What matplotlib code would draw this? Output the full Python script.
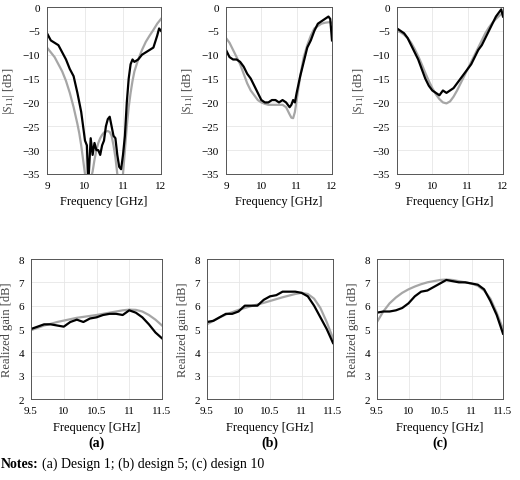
import numpy as np
import matplotlib.pyplot as plt

plt.rcParams['font.family'] = ['Liberation Serif', 'DejaVu Serif']
plt.rcParams['mathtext.fontset'] = 'custom'
plt.rcParams['mathtext.rm'] = 'Liberation Serif'
plt.rcParams['mathtext.it'] = 'Liberation Serif:italic'
plt.rcParams['font.size'] = 8

# |S11| data, frequency in GHz
s_freq_a = [9.0, 9.1, 9.2, 9.3, 9.4, 9.5, 9.6, 9.7, 9.8, 9.85, 9.9, 9.95, 10.0, 10.05, 10.08, 10.1, 10.15, 10.2, 10.25, 10.3, 10.35, 10.4, 10.45, 10.5, 10.55, 10.6, 10.65, 10.7, 10.75, 10.8, 10.85, 10.9, 10.95, 11.0, 11.05, 11.1, 11.15, 11.2, 11.25, 11.3, 11.4, 11.5, 11.6, 11.7, 11.8, 11.9, 11.95, 12.0]
s_meas_a = [-5.5, -7, -7.5, -8, -9.5, -11, -13, -14.5, -18, -20, -22, -25, -28, -29, -36, -35, -27.5, -31, -28.5, -30, -30, -31, -29, -28, -25, -23.5, -23, -25, -27, -27.5, -31, -33.5, -34, -31, -27, -20, -15, -12, -11, -11.5, -11, -10, -9.5, -9, -8.5, -6, -4.5, -5]
s_sim_a = [-8.5, -9.5, -10.5, -12, -13.5, -15.5, -18, -21, -24.5, -26.5, -29, -32, -35, -37, -38, -38, -36, -34.5, -32, -30, -28.5, -27.5, -26.8, -26.3, -26.1, -26, -26.2, -27, -29, -31.5, -35, -38, -39, -35, -30, -25, -21, -18, -15.5, -13.5, -11, -9, -7.3, -6, -4.8, -3.5, -3, -2.5]

s_freq_b = [9.0, 9.1, 9.2, 9.3, 9.4, 9.5, 9.6, 9.7, 9.8, 9.9, 10.0, 10.1, 10.2, 10.3, 10.4, 10.5, 10.6, 10.7, 10.8, 10.85, 10.9, 10.95, 11.0, 11.1, 11.2, 11.3, 11.4, 11.5, 11.6, 11.7, 11.8, 11.9, 11.95, 12.0]
s_meas_b = [-9, -10.5, -11, -11, -11.5, -12.5, -14, -15, -16.5, -18, -19.5, -20, -20, -19.5, -19.5, -20, -19.5, -20, -21, -20.5, -19.5, -20, -18, -14.5, -11.5, -8.5, -7, -5, -3.5, -3, -2.5, -2, -2.5, -7]
s_sim_b = [-6.5, -7.5, -9, -10.5, -12, -14, -16, -17.5, -18.5, -19.5, -20, -20.3, -20.5, -20.5, -20.5, -20.5, -20.5, -21, -22.5, -23.2, -23.3, -22, -19.5, -14.5, -10.5, -8, -6, -4.5, -4, -3.5, -3.3, -3.2, -3.2, -3.3]

s_freq_c = [9.0, 9.1, 9.2, 9.3, 9.4, 9.5, 9.6, 9.7, 9.8, 9.9, 10.0, 10.1, 10.2, 10.3, 10.4, 10.5, 10.6, 10.7, 10.8, 10.9, 11.0, 11.1, 11.2, 11.3, 11.4, 11.5, 11.6, 11.7, 11.8, 11.9, 11.95, 12.0]
s_meas_c = [-4.5, -5, -5.5, -6.5, -8, -9.5, -11, -13, -15, -16.5, -17.5, -18, -18.5, -17.5, -18, -17.5, -17, -16, -15, -14, -13, -12, -10.5, -9, -8, -6.5, -5, -3.5, -2, -1, -0.5, -2]
s_sim_c = [-5, -5.3, -5.8, -6.5, -7.5, -8.8, -10.3, -12, -13.8, -15.5, -17, -18.3, -19.3, -20, -20.2, -19.8, -18.8, -17.5, -16, -14.5, -13, -11.5, -10, -8.5, -7, -5.5, -4.3, -3.3, -2.5, -1.8, -1.5, -1.3]

# realized gain data
g_freq = [9.5, 9.6, 9.7, 9.8, 9.9, 10.0, 10.1, 10.2, 10.3, 10.4, 10.5, 10.6, 10.7, 10.8, 10.9, 11.0, 11.1, 11.2, 11.3, 11.4, 11.5]
g_meas_a = [5.0, 5.1, 5.2, 5.2, 5.15, 5.1, 5.3, 5.4, 5.3, 5.45, 5.5, 5.6, 5.65, 5.65, 5.6, 5.8, 5.7, 5.5, 5.2, 4.85, 4.6]
g_sim_a = [4.95, 5.05, 5.15, 5.22, 5.3, 5.36, 5.42, 5.48, 5.52, 5.56, 5.6, 5.65, 5.7, 5.75, 5.8, 5.83, 5.82, 5.75, 5.6, 5.4, 5.15]
g_meas_b = [5.3, 5.35, 5.5, 5.65, 5.65, 5.75, 6.0, 6.0, 6.0, 6.25, 6.4, 6.45, 6.6, 6.6, 6.6, 6.55, 6.4, 6.0, 5.5, 5.0, 4.4]
g_sim_b = [5.2, 5.35, 5.5, 5.62, 5.72, 5.82, 5.9, 5.98, 6.05, 6.12, 6.2, 6.28, 6.36, 6.43, 6.5, 6.55, 6.5, 6.3, 5.9, 5.3, 4.6]
g_meas_c = [5.7, 5.75, 5.75, 5.8, 5.9, 6.1, 6.4, 6.6, 6.65, 6.8, 6.95, 7.1, 7.05, 7.0, 7.0, 6.95, 6.9, 6.7, 6.2, 5.6, 4.8]
g_sim_c = [5.3, 5.75, 6.1, 6.35, 6.55, 6.7, 6.82, 6.92, 7.0, 7.05, 7.1, 7.12, 7.1, 7.05, 7.0, 6.95, 6.85, 6.65, 6.3, 5.7, 5.0]

labels = ['(a)', '(b)', '(c)']
top_pos = [[47, 161], [226, 332], [397, 503]]
bot_pos = [[31, 162], [207, 333], [377, 503]]
W, H = 520, 481

fig = plt.figure(figsize=(5.2, 4.81), dpi=100)

s_sets = [(s_freq_a, s_meas_a, s_sim_a), (s_freq_b, s_meas_b, s_sim_b), (s_freq_c, s_meas_c, s_sim_c)]
g_sets = [(g_meas_a, g_sim_a), (g_meas_b, g_sim_b), (g_meas_c, g_sim_c)]

def style(ax):
    ax.grid(True, color='#e6e6e6', lw=0.6)
    ax.tick_params(direction='in', length=0, labelsize=8, pad=5)
    for sp in ax.spines.values():
        sp.set_color('#555555')
        sp.set_linewidth(0.7)

for i in range(3):
    x0, x1 = top_pos[i]
    ax = fig.add_axes([x0 / W, 1 - 175 / H, (x1 - x0) / W, (175 - 8) / H])
    f, m, s = s_sets[i]
    ax.plot(f, s, color='#a6a6a6', lw=1.6)
    ax.plot(f, m, color='black', lw=1.6)
    ax.set_xlim(9, 12)
    ax.set_ylim(-35, 0)
    ax.set_xticks([9, 10, 11, 12])
    ax.set_yticks(range(-35, 1, 5))
    ax.set_yticklabels(['\u221235', '\u221230', '\u221225', '\u221220', '\u221215', '\u221210', '\u22125', '0'])
    ax.set_xlabel('Frequency [GHz]', fontsize=9, labelpad=4)
    ax.set_ylabel('|$S_{11}$| [dB]', fontsize=9, color='#444444')
    style(ax)

    x0, x1 = bot_pos[i]
    ax = fig.add_axes([x0 / W, 1 - 400 / H, (x1 - x0) / W, (400 - 260) / H])
    m, s = g_sets[i]
    ax.plot(g_freq, s, color='#a6a6a6', lw=1.6)
    ax.plot(g_freq, m, color='black', lw=1.6)
    ax.set_xlim(9.5, 11.5)
    ax.set_ylim(2, 8)
    ax.set_xticks([9.5, 10, 10.5, 11, 11.5])
    ax.set_xticklabels(['9.5', '10', '10.5', '11', '11.5'])
    ax.set_yticks(range(2, 9))
    ax.set_xlabel('Frequency [GHz]', fontsize=9, labelpad=4)
    ax.set_ylabel('Realized gain [dB]', fontsize=9, color='#444444')
    style(ax)
    fig.text((x0 + x1) / 2 / W, 1 - 443 / H, labels[i], ha='center', va='center',
             fontsize=10, fontweight='bold')

fig.text(1 / W, 1 - 468 / H, 'Notes:', fontsize=10, fontweight='bold', va='baseline')
fig.text(42 / W, 1 - 468 / H, '(a) Design 1; (b) design 5; (c) design 10',
         fontsize=10, va='baseline')
fig.savefig('out.png', dpi=100)
